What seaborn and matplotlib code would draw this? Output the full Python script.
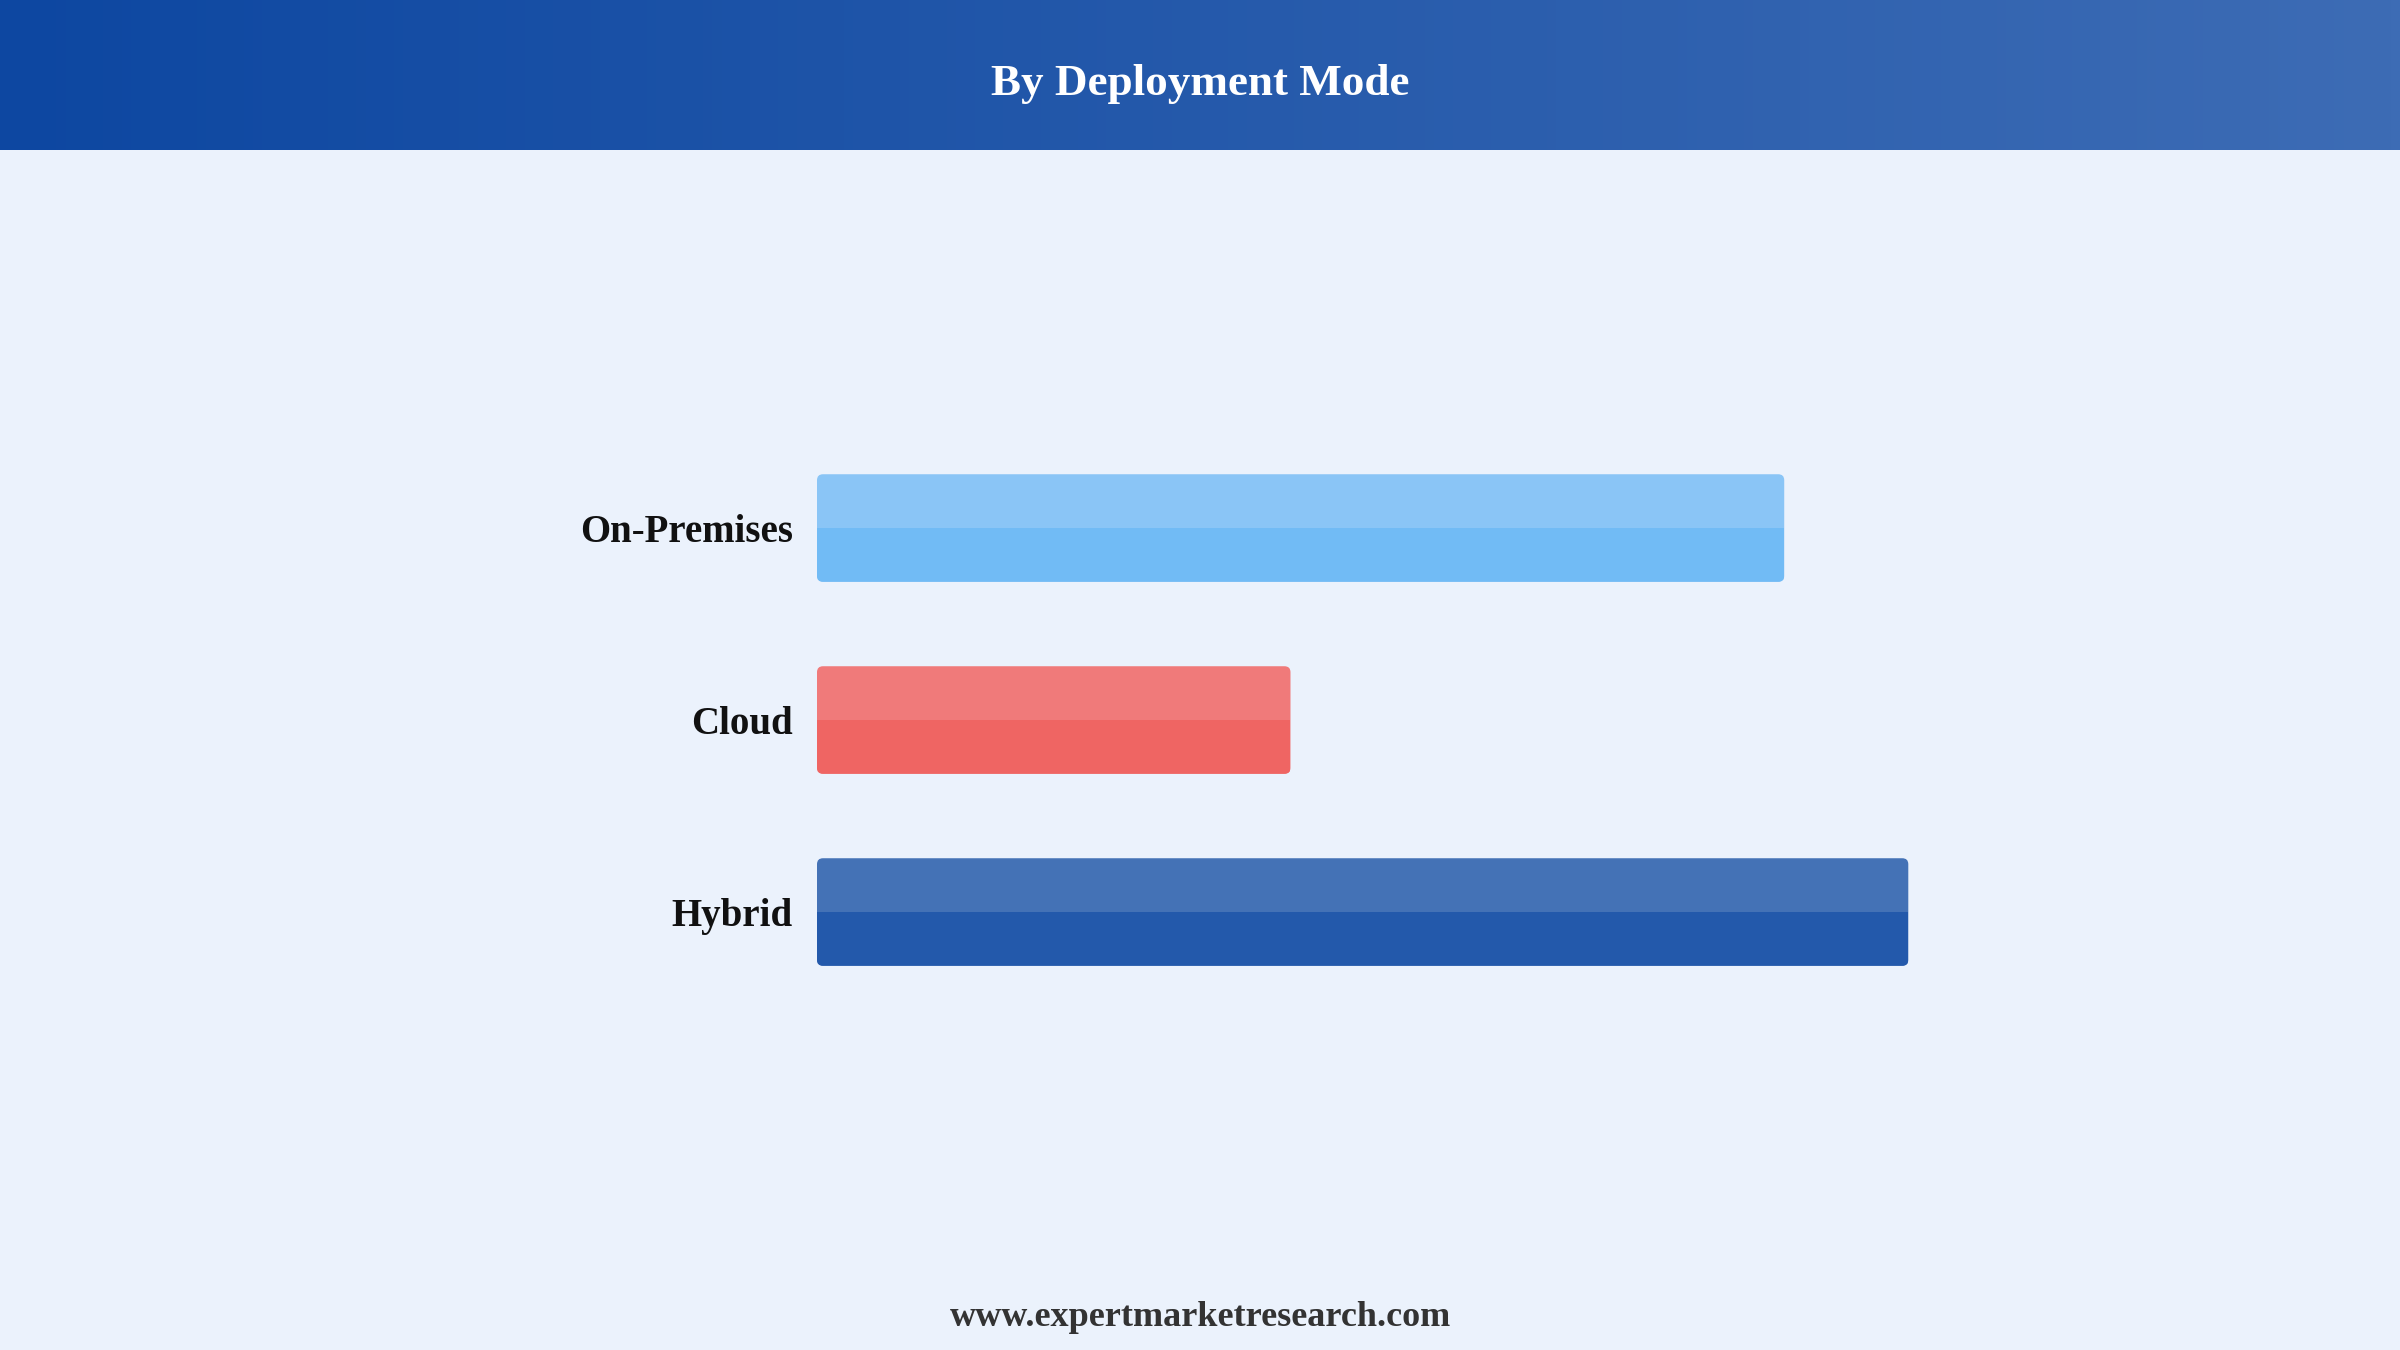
import matplotlib
matplotlib.use('Agg')
import matplotlib.pyplot as plt
import numpy as np
import pandas as pd
import seaborn as sns
from matplotlib.patches import FancyBboxPatch, Rectangle

# data
categories = ['On-Premises', 'Cloud', 'Hybrid']
shares = [38.2, 18.7, 43.1]
top_colors = ['#8AC5F6', '#F07A7A', '#4472B6']
bottom_colors = ['#71BBF5', '#EF6563', '#2359AB']

title = 'By Deployment Mode'
footer = 'www.expertmarketresearch.com'

sns.set_theme(style='white')
plt.rcParams['font.family'] = ['Liberation Serif', 'DejaVu Serif']

bg = '#EBF2FC'
fig = plt.figure(figsize=(24, 13.5), dpi=100)
fig.patch.set_facecolor(bg)

# header with horizontal gradient
hdr = fig.add_axes([0, 1 - 150 / 1350, 1, 150 / 1350])
grad = np.linspace(0, 1, 256).reshape(1, -1)
cmap = matplotlib.colors.LinearSegmentedColormap.from_list('hdr', ['#0D47A1', '#3D6CB5'])
hdr.imshow(grad, aspect='auto', cmap=cmap, extent=[0, 1, 0, 1])
hdr.set_axis_off()
hdr.text(0.5, 0.44, title, ha='center', va='center', color='white',
         fontsize=32.5, fontweight='bold', transform=hdr.transAxes)

# main bar axes
ax_left, ax_w = 817 / 2400, 1266 / 2400
ax_bottom, ax_h = (1350 - 1008) / 1350, (1008 - 432) / 1350
ax = fig.add_axes([ax_left, ax_bottom, ax_w, ax_h])
ax.set_facecolor(bg)

df = pd.DataFrame({'mode': categories, 'share': shares})
sns.barplot(data=df, x='share', y='mode', hue='mode', palette=bottom_colors,
            width=0.56, legend=False, ax=ax)
ax.set_xlim(0, 50)
ax.set_ylim(2.5, -0.5)

# px -> data conversion for rounded corners
x_per_px = 50 / (ax_w * 2400)
y_per_px = 3 / (ax_h * 1350)
radius = 6 * x_per_px
aspect = y_per_px / x_per_px

bars = list(ax.patches)
for i, p in enumerate(bars):
    x0, y0 = p.get_x(), p.get_y()
    w, h = p.get_width(), p.get_height()
    p.set_visible(False)
    light = FancyBboxPatch((x0, y0), w, h,
                           boxstyle=f'round,pad=0,rounding_size={radius}',
                           mutation_aspect=aspect, facecolor=top_colors[i],
                           edgecolor='none', zorder=2)
    ax.add_patch(light)
    dark = FancyBboxPatch((x0, y0), w, h,
                          boxstyle=f'round,pad=0,rounding_size={radius}',
                          mutation_aspect=aspect, facecolor=bottom_colors[i],
                          edgecolor='none', zorder=3)
    ax.add_patch(dark)
    # y axis is inverted: bottom half = larger y values
    clip = Rectangle((x0, y0 + h / 2), w, h / 2, transform=ax.transData)
    dark.set_clip_path(clip)

ax.set_xlabel('')
ax.set_ylabel('')
ax.set_xticks([])
ax.tick_params(axis='y', length=0, pad=17.5)
for lbl in ax.get_yticklabels():
    lbl.set_fontsize(28)
    lbl.set_fontweight('bold')
    lbl.set_color('#111111')
sns.despine(ax=ax, left=True, bottom=True)

fig.text(0.5, 1 - 1318 / 1350, footer, ha='center', va='center',
         fontsize=26, fontweight='bold', color='#333333')

fig.savefig('out.png', dpi=100, facecolor=bg)
